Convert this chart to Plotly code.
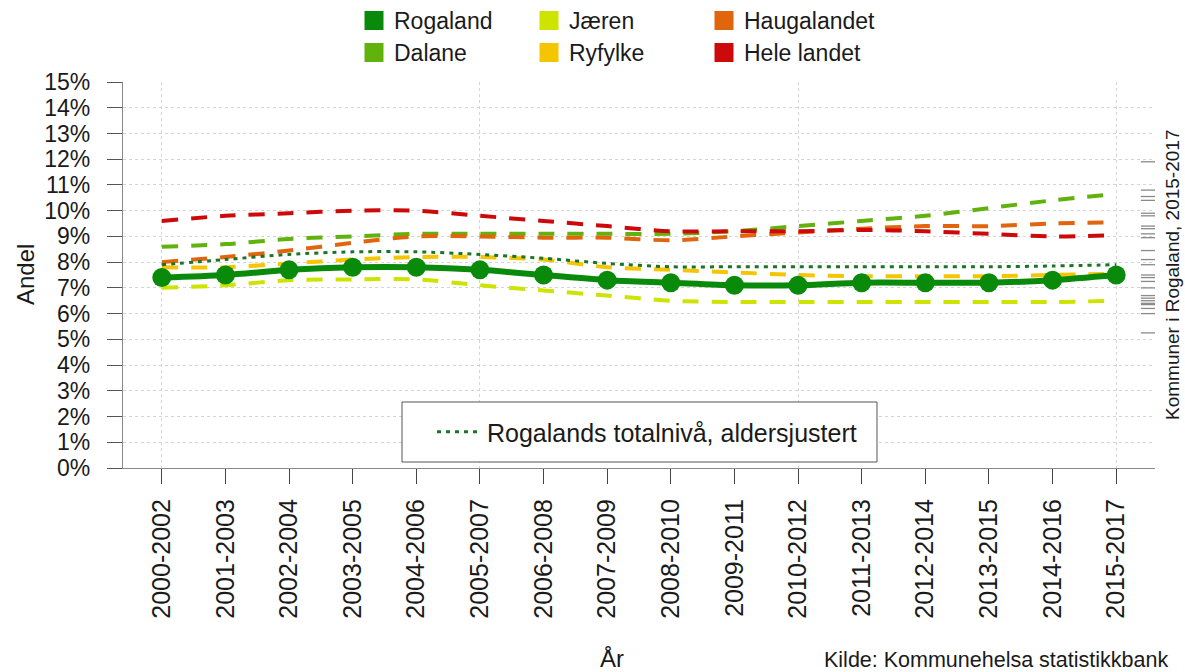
import plotly.graph_objects as go

periods = ["2000-2002", "2001-2003", "2002-2004", "2003-2005", "2004-2006", "2005-2007",
           "2006-2008", "2007-2009", "2008-2010", "2009-2011", "2010-2012", "2011-2013",
           "2012-2014", "2013-2015", "2014-2016", "2015-2017"]

rogaland = [7.4, 7.5, 7.7, 7.8, 7.8, 7.7, 7.5, 7.3, 7.2, 7.1, 7.1, 7.2, 7.2, 7.2, 7.3, 7.5]
dalane = [8.6, 8.7, 8.9, 9.0, 9.1, 9.1, 9.1, 9.1, 9.1, 9.2, 9.4, 9.6, 9.8, 10.1, 10.4, 10.65]
jaeren = [7.0, 7.1, 7.3, 7.33, 7.33, 7.1, 6.9, 6.7, 6.5, 6.45, 6.45, 6.45, 6.45, 6.45, 6.45, 6.5]
ryfylke = [7.8, 7.8, 7.95, 8.1, 8.2, 8.2, 8.1, 7.8, 7.7, 7.6, 7.5, 7.45, 7.45, 7.45, 7.5, 7.55]
haugalandet = [8.0, 8.2, 8.45, 8.75, 9.0, 9.0, 8.95, 8.95, 8.85, 9.0, 9.15, 9.3, 9.4, 9.4, 9.5, 9.55]
hele_landet = [9.6, 9.8, 9.9, 10.0, 10.0, 9.8, 9.6, 9.4, 9.2, 9.2, 9.2, 9.25, 9.2, 9.1, 9.0, 9.05]
totalniva = [7.9, 8.1, 8.3, 8.4, 8.4, 8.3, 8.15, 7.95, 7.82, 7.82, 7.82, 7.82, 7.82, 7.82, 7.85, 7.9]

kommuner_2015_2017 = [11.9, 10.8, 10.55, 10.4, 9.9, 9.8, 9.4, 9.3, 9.1, 8.95, 8.45, 8.1,
                      7.9, 7.5, 7.4, 7.25, 7.0, 6.7, 6.6, 6.5, 6.4, 6.35, 6.2, 6.0, 5.25]

y_ticks = list(range(0, 16))
y_ticklabels = [f"{v}%" for v in y_ticks]

colors = {
    "Rogaland": "#0a8a0a",
    "Dalane": "#62b20e",
    "Jæren": "#cde300",
    "Ryfylke": "#f4c500",
    "Haugalandet": "#e0650c",
    "Hele landet": "#cc0a0a",
}
total_color = "#1a7526"

FONT = "Liberation Sans, Arial, sans-serif"
xs = list(range(len(periods)))

fig = go.Figure()

dash = "16px,13px"
series = [
    ("Jæren", jaeren),
    ("Ryfylke", ryfylke),
    ("Dalane", dalane),
    ("Haugalandet", haugalandet),
    ("Hele landet", hele_landet),
]
for name, vals in series:
    fig.add_trace(go.Scatter(x=xs, y=vals, mode="lines", name=name, showlegend=False,
                             line=dict(color=colors[name], width=4, dash=dash, shape="spline", smoothing=0.8)))

fig.add_trace(go.Scatter(x=xs, y=totalniva, mode="lines", name="Rogalands totalnivå, aldersjustert",
                         legend="legend3", showlegend=True,
                         line=dict(color=total_color, width=3, dash="4px,5px", shape="spline", smoothing=0.8)))

fig.add_trace(go.Scatter(x=xs, y=rogaland, mode="lines+markers", name="Rogaland", showlegend=False,
                         line=dict(color=colors["Rogaland"], width=6, shape="spline", smoothing=0.8),
                         marker=dict(color=colors["Rogaland"], size=19)))

# rug of municipalities
fig.add_trace(go.Scatter(x=[15.52] * len(kommuner_2015_2017), y=kommuner_2015_2017, mode="markers",
                         showlegend=False, hoverinfo="y",
                         marker=dict(symbol="line-ew", size=12, line=dict(color="#8a8a8a", width=1.3))))

# legend entries (squares)
row1 = ["Rogaland", "Jæren", "Haugalandet"]
row2 = ["Dalane", "Ryfylke", "Hele landet"]
for names, lg in ((row1, "legend"), (row2, "legend2")):
    for name in names:
        fig.add_trace(go.Scatter(x=[None], y=[None], mode="markers", name=name, legend=lg,
                                 marker=dict(symbol="square", size=16, color=colors[name],
                                             line=dict(color=colors[name], width=3))))

L, R, T, B = 123, 30, 82, 204
W, H = 1185, 672
pw = W - L - R
ph = H - T - B

def px_x(px):
    return (px - L) / pw

def px_y(py):
    return (H - B - py) / ph

fig.update_layout(
    width=W, height=H,
    margin=dict(l=L, r=R, t=T, b=B, autoexpand=False),
    paper_bgcolor="white", plot_bgcolor="white",
    font=dict(family=FONT, color="#1a1a1a"),
    legend=dict(orientation="h", x=px_x(354), xanchor="left", y=px_y(-1), yanchor="top",
                font=dict(size=23, family=FONT), entrywidth=130, bgcolor="rgba(0,0,0,0)",
                itemclick=False),
    legend2=dict(orientation="h", x=px_x(354), xanchor="left", y=px_y(31), yanchor="top",
                 font=dict(size=23, family=FONT), entrywidth=130, bgcolor="rgba(0,0,0,0)",
                 itemclick=False),
    legend3=dict(orientation="h", x=px_x(432), xanchor="left", y=px_y(432), yanchor="middle",
                 font=dict(size=25, family=FONT), bgcolor="rgba(0,0,0,0)", itemclick=False,
                 itemwidth=45),
    xaxis=dict(
        range=[-0.61, 15.61], tickmode="array", tickvals=xs, ticktext=periods,
        tickangle=-90, tickfont=dict(size=25, family=FONT, color="#1a1a1a"),
        ticks="outside", ticklen=15, tickcolor="#444", tickwidth=1,
        showline=True, linecolor="#8a8a8a", linewidth=1.3, automargin=False,
        showgrid=False, zeroline=False, ticklabelstandoff=5,
        minor=dict(tickmode="array", tickvals=[0, 5, 10, 15], showgrid=True,
                   gridcolor="#d4d4d4", griddash="dot", gridwidth=1, ticks=""),
    ),
    yaxis=dict(
        range=[0, 15], tickmode="array", tickvals=y_ticks, ticktext=y_ticklabels,
        tickfont=dict(size=23, family=FONT, color="#1a1a1a"),
        ticks="outside", ticklen=15, tickcolor="#555", tickwidth=1,
        showline=True, linecolor="#8a8a8a", linewidth=1.3, automargin=False,
        showgrid=True, gridcolor="#d4d4d4", griddash="dot", gridwidth=1,
        zeroline=False, ticklabelstandoff=12,
    ),
    shapes=[dict(type="rect", xref="paper", yref="paper",
                 x0=px_x(402), x1=px_x(877), y0=px_y(462), y1=px_y(402),
                 fillcolor="white", line=dict(color="#555", width=1), layer="above")],
    annotations=[
        dict(text="Andel", xref="paper", yref="paper", x=px_x(25), y=0.5, textangle=-90,
             showarrow=False, font=dict(size=24, family=FONT, color="#1a1a1a"),
             xanchor="center", yanchor="middle"),
        dict(text="År", xref="paper", yref="paper", x=px_x(612), y=px_y(658),
             showarrow=False, font=dict(size=24, family=FONT, color="#1a1a1a"),
             xanchor="center", yanchor="middle"),
        dict(text="Kilde: Kommunehelsa statistikkbank", xref="paper", yref="paper",
             x=px_x(1170), y=px_y(660), showarrow=False,
             font=dict(size=21.5, family=FONT, color="#1a1a1a"), xanchor="right", yanchor="middle"),
        dict(text="Kommuner i Rogaland, 2015-2017", xref="paper", yref="paper",
             x=px_x(1172), y=px_y(275), textangle=-90, showarrow=False,
             font=dict(size=19, family=FONT, color="#1a1a1a"), xanchor="center", yanchor="middle"),
    ],
)

fig.write_html("out.html", config={"displayModeBar": False},
               post_script="document.body.style.margin='0px';document.body.style.overflow='hidden';")
